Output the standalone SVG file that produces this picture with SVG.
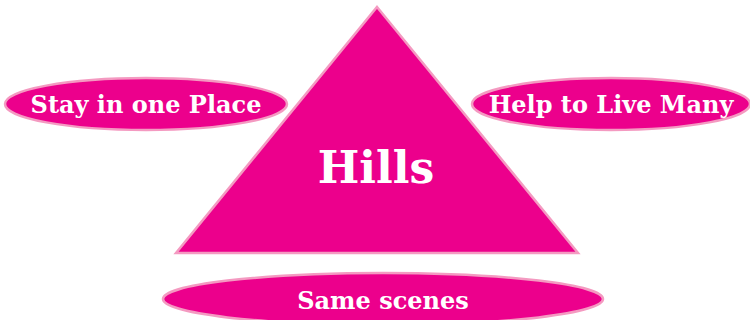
<svg xmlns="http://www.w3.org/2000/svg" width="750" height="320" viewBox="0 0 750 320">
<style>
.shape{fill:#EC008C;stroke:#F49AC1;stroke-width:2.5}
.lbl{font-family:"DejaVu Serif","Liberation Serif",serif;font-weight:bold;fill:#FFFFFF;text-anchor:middle}
</style>
<rect width="750" height="320" fill="#FFFFFF"/>
<g id="connectors"></g>
<g id="hills">
<polygon class="shape" points="377,7 578,253 176,253"/>
<text class="lbl" x="376" y="183" font-size="44">Hills</text>
</g>
<g id="stay">
<ellipse class="shape" cx="146" cy="104" rx="141" ry="26"/>
<text class="lbl" x="146" y="113" font-size="24">Stay in one Place</text>
</g>
<g id="help">
<ellipse class="shape" cx="611" cy="104" rx="139" ry="26"/>
<text class="lbl" x="611" y="113" font-size="24">Help to Live Many</text>
</g>
<g id="same">
<ellipse class="shape" cx="383" cy="299" rx="220" ry="26"/>
<text class="lbl" x="383" y="309" font-size="24">Same scenes</text>
</g>
</svg>
